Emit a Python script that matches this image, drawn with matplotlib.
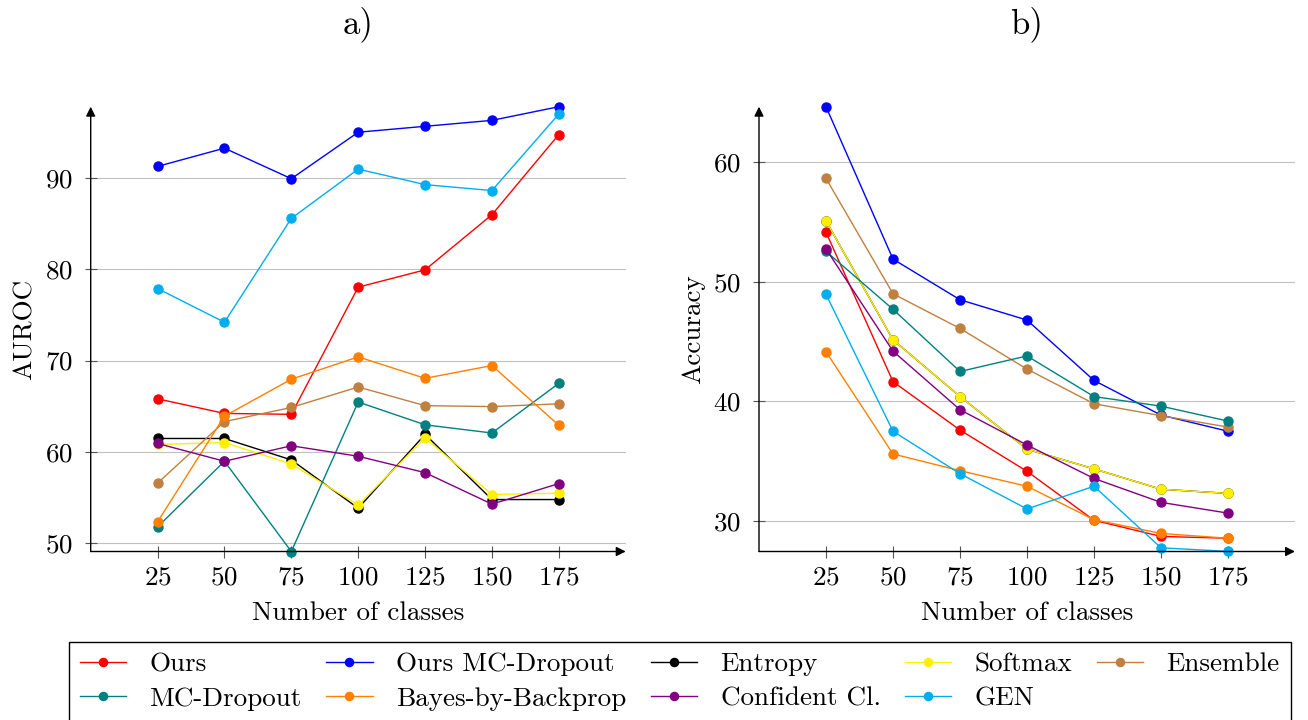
import matplotlib
matplotlib.use("Agg")
import matplotlib.pyplot as plt

plt.rcParams['font.family'] = ['cmr10', 'DejaVu Serif']
plt.rcParams['mathtext.fontset'] = 'cm'
plt.rcParams['axes.formatter.use_mathtext'] = True

classes = [25, 50, 75, 100, 125, 150, 175]
methods = ["Ours", "Ours MC-Dropout", "Entropy", "Softmax", "Ensemble",
           "MC-Dropout", "Bayes-by-Backprop", "Confident Cl.", "GEN"]
colors = ["#ff0000", "#0000ff", "#000000", "#fff000", "#bf8040",
          "#008080", "#ff8000", "#800080", "#00aeef"]

# AUROC (panel a)
auroc_ours = [65.8, 64.2, 64.1, 78.05, 79.95, 86.0, 94.8]
auroc_ours_mc = [91.3, 93.3, 89.95, 95.05, 95.7, 96.35, 97.85]
auroc_entropy = [61.45, 61.45, 59.1, 53.8, 61.9, 54.75, 54.75]
auroc_softmax = [60.8, 61.0, 58.65, 54.15, 61.5, 55.3, 55.45]
auroc_ensemble = [56.55, 63.3, 64.85, 67.1, 65.05, 64.95, 65.25]
auroc_mc = [51.75, 58.95, 49.05, 65.45, 62.95, 62.05, 67.5]
auroc_bbb = [52.3, 63.9, 67.95, 70.4, 68.05, 69.45, 62.9]
auroc_conf = [60.9, 58.95, 60.65, 59.5, 57.7, 54.25, 56.5]
auroc_gen = [77.9, 74.2, 85.6, 91.0, 89.3, 88.65, 97.05]

# Accuracy (panel b)
acc_ours = [54.15, 41.65, 37.6, 34.15, 30.05, 28.7, 28.55]
acc_ours_mc = [64.65, 51.9, 48.5, 46.8, 41.75, 38.85, 37.5]
acc_entropy = [55.1, 45.15, 40.4, 36.0, 34.35, 32.65, 32.3]
acc_softmax = [55.1, 45.15, 40.4, 36.0, 34.35, 32.65, 32.3]
acc_ensemble = [58.65, 49.0, 46.1, 42.7, 39.8, 38.8, 37.85]
acc_mc = [52.55, 47.7, 42.5, 43.8, 40.4, 39.6, 38.35]
acc_bbb = [44.15, 35.6, 34.2, 32.9, 30.1, 28.95, 28.55]
acc_conf = [52.75, 44.2, 39.3, 36.35, 33.55, 31.55, 30.65]
acc_gen = [48.95, 37.5, 33.95, 31.0, 32.9, 27.75, 27.45]

auroc = [auroc_ours, auroc_ours_mc, auroc_entropy, auroc_softmax, auroc_ensemble,
         auroc_mc, auroc_bbb, auroc_conf, auroc_gen]
acc = [acc_ours, acc_ours_mc, acc_entropy, acc_softmax, acc_ensemble,
       acc_mc, acc_bbb, acc_conf, acc_gen]

W, H = 1308, 720
fig = plt.figure(figsize=(W / 100, H / 100), dpi=100)

def px_axes(x0, x1, ytop, ybot):
    return fig.add_axes([x0 / W, 1 - ybot / H, (x1 - x0) / W, (ybot - ytop) / H])

axL = px_axes(90.7, 625.7, 106.7, 551.5)
axR = px_axes(759.0, 1295.0, 106.7, 551.5)

FS = 19.5

def style(ax, ylim, yticks, ylabel, title):
    ax.set_xlim(0, 200)
    ax.set_ylim(*ylim)
    ax.set_xticks(classes)
    ax.set_yticks(yticks)
    for s in ax.spines.values():
        s.set_visible(False)
    ax.tick_params(direction='inout', length=8, width=0.8, color='#555555',
                   labelsize=FS, top=False, right=False)
    ax.tick_params(axis='x', pad=6.5)
    ax.tick_params(axis='y', pad=9)
    ax.yaxis.grid(True, color='#c0c0c0', linewidth=0.8)
    ax.set_axisbelow(True)
    ax.set_xlabel("Number of classes", fontsize=FS, labelpad=8)
    ax.set_ylabel(ylabel, fontsize=FS, labelpad=6)
    arrow = dict(arrowstyle='-|>', color='black', lw=1.0, mutation_scale=14,
                 shrinkA=0, shrinkB=0)
    ax.annotate("", xy=(1.0, 0), xytext=(0, 0), xycoords='axes fraction',
                textcoords='axes fraction', arrowprops=arrow)
    ax.annotate("", xy=(0, 1.0), xytext=(0, 0), xycoords='axes fraction',
                textcoords='axes fraction', arrowprops=arrow)
    bb = ax.get_position()
    fig.text((bb.x0 + bb.x1) / 2, 1 - 33.3 / H, title, ha='center',
             va='baseline', fontsize=25)

handles = []
for vals, name, c in zip(auroc, methods, colors):
    h, = axL.plot(classes, vals, color=c, lw=1.0, marker='o', markersize=6.5,
                  markerfacecolor=c, markeredgecolor=c, label=name, clip_on=False)
    handles.append(h)
for vals, name, c in zip(acc, methods, colors):
    axR.plot(classes, vals, color=c, lw=1.0, marker='o', markersize=6.5,
             markerfacecolor=c, markeredgecolor=c, label=name, clip_on=False)

style(axL, (49.05, 97.85), [50, 60, 70, 80, 90], "AUROC", "a)")
style(axR, (27.44, 64.65), [30, 40, 50, 60], "Accuracy", "b)")

order = [0, 5, 1, 6, 2, 7, 3, 8, 4]
leg = fig.legend([handles[i] for i in order], [methods[i] for i in order],
                 loc='upper center', bbox_to_anchor=(679.7 / W, 1 - 641.7 / H),
                 ncol=5, fontsize=FS, frameon=True, fancybox=False,
                 edgecolor='black', framealpha=1, borderpad=0.4,
                 handlelength=1.72, handletextpad=0.86, columnspacing=0.9,
                 labelspacing=0.38, markerscale=0.9, borderaxespad=0)
leg.get_frame().set_linewidth(1.0)

fig.savefig("out.png", dpi=100)
